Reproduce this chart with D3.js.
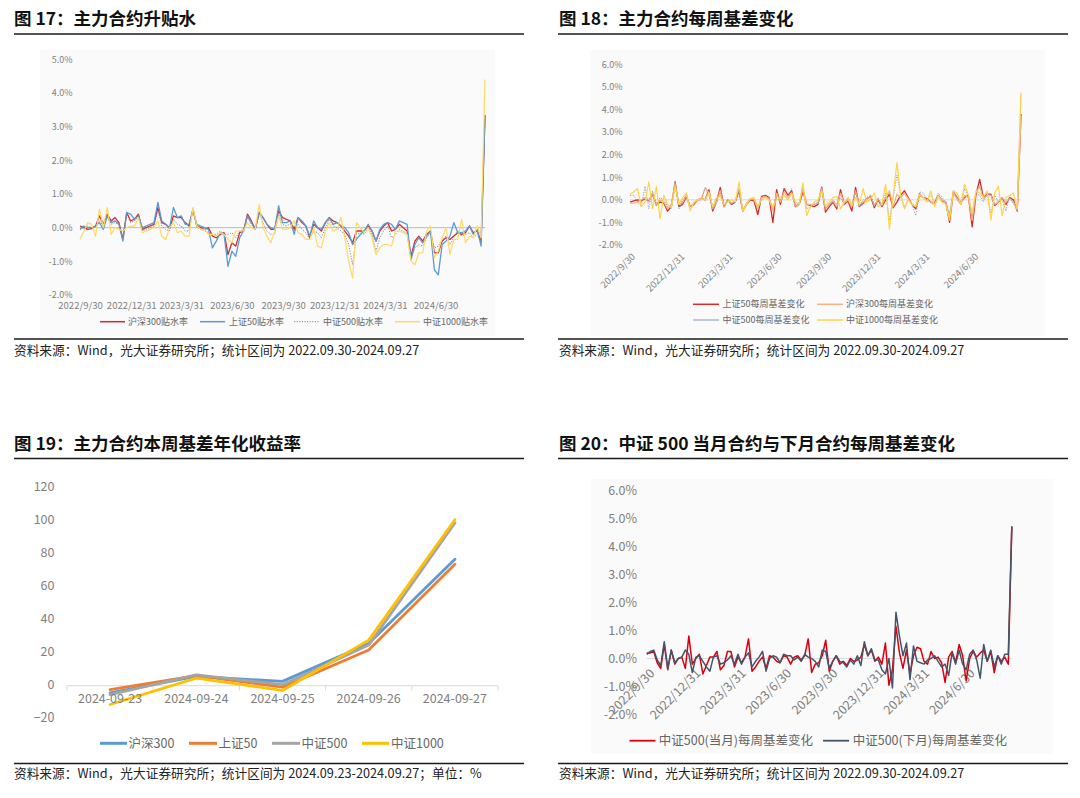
<!DOCTYPE html>
<html><head><meta charset="utf-8">
<script src="https://cdn.jsdelivr.net/npm/d3@7"></script>
<style>
body{margin:0;background:#fff}
svg{display:block}
text{font-family:"Noto Sans CJK SC","Noto Sans",sans-serif}
</style>
</head><body>
<svg id="c" width="1080" height="798"></svg>
<script>
// ---------- shared categories ----------
const weekStart = "2022-09-30", weekEnd = "2024-09-28";
const xTickLabels = ["2022/9/30","2022/12/31","2023/3/31","2023/6/30","2023/9/30","2023/12/31","2024/3/31","2024/6/30"];
const yTicks17 = [-2,-1,0,1,2,3,4,5];
const yTicks18 = [-2,-1,0,1,2,3,4,5,6];
const yTicks20 = [-2,-1,0,1,2,3,4,5,6];

// ---------- 图17 主力合约升贴水 (%) ----------
const hs300_17 = [
0.05,0.0,-0.05,-0.03,0.05,0.35,0.1,0.4,0.2,0.3,
0.15,-0.35,0.45,0.2,0.25,0.4,-0.05,0.0,0.05,0.1,
0.6,0.15,0.1,-0.02,0.35,0.3,0.3,0.15,0.05,0.55,
0.05,0.0,-0.05,0.0,-0.25,-0.3,-0.2,-0.15,-0.8,-0.45,
-0.55,-0.15,-0.1,0.4,0.2,-0.05,0.45,0.3,0.1,-0.05,
-0.05,0.5,0.3,0.25,0.2,-0.05,0.3,0.15,0.05,-0.3,
0.1,0.0,-0.1,0.15,0.3,0.2,0.15,0.05,-0.1,-0.25,
-0.45,-0.1,-0.1,-0.1,0.05,-0.1,-0.4,-0.1,0.05,0.15,
-0.1,-0.05,0.1,0.0,-0.1,-0.85,-0.4,-0.25,-0.4,-0.2,
-0.1,-0.75,-0.75,-0.4,-0.3,-0.35,-0.25,-0.15,-0.2,-0.15,
0.05,-0.15,-0.1,-0.4,3.35];
const sz50_17 = [
-0.05,0.05,0.0,0.0,0.05,0.15,-0.05,0.35,0.15,0.2,
0.1,-0.4,0.45,0.4,0.25,0.35,0.0,0.05,0.1,0.15,
0.75,0.2,0.1,0.0,0.6,0.3,0.35,0.1,0.1,0.5,
0.1,0.05,0.0,-0.05,-0.6,-0.4,-0.15,-0.2,-1.15,-0.7,
-0.85,-0.3,-0.1,0.35,0.15,-0.05,0.45,0.3,0.1,0.0,
-0.05,0.65,0.15,0.15,0.2,-0.2,0.3,0.2,0.05,-0.25,
0.2,0.0,-0.05,0.15,0.3,0.1,0.15,0.05,0.0,-0.15,
-0.5,-0.35,-0.2,-0.1,0.1,-0.1,-0.4,-0.05,0.1,0.15,
0.1,-0.05,0.2,0.15,0.1,-0.95,-0.5,-0.3,-0.45,-0.25,
-0.1,-1.25,-1.4,-0.5,-0.4,-0.25,0.15,-0.15,-0.15,-0.1,
0.05,-0.2,-0.05,-0.55,3.3];
const zz500_17 = [
-0.05,0.0,0.05,0.0,0.05,0.2,0.05,0.3,0.1,0.15,
0.1,-0.3,0.4,0.15,0.2,0.35,-0.1,-0.05,0.0,0.05,
0.5,0.05,-0.05,-0.1,0.25,0.1,0.05,-0.1,-0.1,0.55,
0.0,-0.05,-0.1,-0.15,-0.2,-0.2,-0.1,-0.2,-0.2,-0.15,
-0.3,-0.1,-0.05,0.3,0.1,-0.05,0.4,0.15,-0.1,-0.2,
-0.2,0.4,0.1,0.05,0.1,-0.1,0.1,-0.05,-0.15,-0.35,
-0.1,-0.15,-0.3,0.0,0.25,0.05,0.0,-0.1,-0.2,-0.5,
-1.1,-0.2,-0.15,-0.2,0.0,-0.2,-0.7,-0.3,-0.1,0.05,
-0.3,-0.2,-0.05,-0.1,-0.2,-0.9,-0.6,-0.5,-0.55,-0.3,
-0.15,-0.6,-0.55,-0.35,-0.25,-0.5,-0.3,-0.1,-0.25,-0.2,
-0.15,-0.3,-0.2,-0.45,3.3];
const zz1000_17 = [
-0.35,-0.1,0.15,0.1,-0.25,0.55,0.0,0.6,-0.2,0.0,
-0.05,-0.1,0.0,0.05,0.05,0.3,-0.15,-0.1,-0.05,0.0,
0.2,-0.25,-0.35,0.0,0.15,-0.15,-0.1,-0.25,-0.25,0.6,
0.05,-0.05,-0.05,-0.2,-0.2,-0.25,-0.15,-0.2,-0.35,-0.45,
-0.1,-0.1,-0.1,0.15,0.0,-0.05,0.7,0.0,-0.25,-0.45,
-0.1,0.35,-0.05,-0.05,0.0,0.2,-0.15,-0.2,-0.35,-0.35,
0.0,-0.55,-0.6,-0.1,0.15,-0.1,-0.05,0.3,-0.3,-1.0,
-1.5,0.15,0.0,-0.15,0.0,-0.3,-0.8,-0.6,-0.5,-0.5,
-0.55,-0.1,-0.1,-0.15,-0.2,-1.0,-1.1,-0.75,-0.75,-0.1,
0.05,-0.9,-0.7,-0.3,0.0,-0.8,-0.35,-0.35,0.25,-0.45,
-0.25,-0.3,0.05,-0.3,4.4];

// ---------- 图18 主力合约每周基差变化 (%) ----------
const sz50_18 = [
-0.1,-0.05,0.0,-0.05,0.05,-0.05,0.25,-0.2,-0.1,-0.15,
-0.5,-0.3,0.8,-0.3,-0.2,0.15,-0.3,-0.2,0.0,0.05,
0.0,0.45,-0.5,-0.1,0.55,-0.3,0.0,-0.2,-0.1,0.4,
-0.5,-0.2,0.0,-0.05,-0.65,0.15,0.2,0.1,-1.0,0.45,
-0.2,0.5,0.2,0.4,-0.3,-0.2,0.35,-0.2,-0.25,-0.3,
-0.2,0.55,-0.55,-0.3,-0.1,-0.4,0.45,-0.2,-0.05,-0.5,
0.55,-0.3,-0.15,0.05,0.15,-0.35,0.0,-0.3,0.0,0.25,
-0.35,-0.1,0.2,0.4,0.1,-0.2,-0.4,0.2,0.1,0.05,
-0.1,-0.15,0.2,-0.05,-0.1,-1.0,0.35,0.1,-0.1,0.1,
0.2,-1.2,0.2,0.9,0.1,0.25,0.25,-0.25,-0.1,0.1,
-0.2,0.1,0.0,-0.5,3.8];
const hs300_18 = [
-0.15,-0.15,-0.1,0.0,0.1,-0.1,0.3,-0.2,0.0,-0.1,
-0.4,-0.2,0.75,-0.2,-0.1,0.2,-0.3,-0.15,0.0,0.0,
0.55,0.3,-0.4,-0.1,0.4,-0.3,0.0,-0.15,-0.05,0.5,
-0.5,-0.15,0.05,0.0,-0.4,0.1,0.15,0.05,-0.5,0.3,
-0.1,0.35,0.1,0.3,-0.3,-0.2,0.5,-0.2,-0.2,-0.2,
-0.15,0.5,-0.4,-0.2,-0.05,-0.3,0.3,-0.15,0.0,-0.3,
0.4,-0.25,-0.1,0.0,0.2,-0.25,0.05,-0.25,0.1,0.4,
-0.3,0.25,0.1,0.3,0.05,-0.2,-0.3,0.3,0.1,0.0,
-0.1,-0.2,0.2,0.0,-0.1,-0.8,0.35,0.05,-0.2,0.2,
0.1,-0.9,0.3,0.6,0.05,0.2,0.2,-0.2,-0.1,0.1,
-0.1,0.05,-0.1,-0.45,3.7];
const zz500_18 = [
0.2,0.2,-0.1,-0.3,0.6,-0.4,0.4,-0.3,0.1,0.0,
-0.3,-0.4,0.75,-0.4,0.0,0.2,-0.3,-0.2,0.0,0.1,
0.5,0.2,-0.4,0.0,0.3,-0.3,0.0,-0.2,-0.1,0.4,
-0.4,-0.2,0.05,0.0,-0.3,0.0,0.15,0.05,-0.3,0.1,
0.0,0.2,0.0,0.5,-0.3,-0.1,0.55,-0.4,-0.3,-0.2,
-0.1,0.6,-0.4,-0.2,0.0,-0.2,0.1,-0.25,0.1,-0.2,
0.3,-0.3,0.0,0.1,0.2,-0.3,0.1,-0.3,0.3,-0.9,
0.1,1.1,0.2,-0.3,0.0,-0.2,-0.7,0.35,0.3,0.0,
0.2,-0.1,0.3,0.1,-0.1,-0.6,0.4,0.0,-0.2,0.5,
0.1,-0.7,0.3,0.2,-0.1,0.3,-0.6,0.2,-0.1,0.0,
-0.5,0.2,-0.2,-0.3,4.7];
const zz1000_18 = [
0.25,0.35,0.5,-0.3,-0.1,0.8,-0.4,0.6,-0.85,0.2,
-0.2,-0.35,0.6,-0.2,0.1,0.3,-0.5,-0.1,0.0,0.05,
0.0,0.35,-0.3,0.1,0.15,-0.2,-0.1,0.0,-0.1,0.8,
-0.5,-0.2,0.05,0.1,-0.3,0.0,0.1,0.0,-0.3,0.0,
0.1,0.2,0.0,0.3,-0.1,-0.2,0.75,-0.7,-0.3,-0.1,
0.0,0.4,-0.3,-0.1,0.1,0.15,-0.4,-0.1,0.1,-0.25,
0.1,-0.2,0.5,-0.1,0.05,0.3,-0.3,-0.2,0.7,-1.3,
0.2,1.65,0.2,-0.4,0.0,-0.2,-0.3,0.2,0.1,-0.1,
0.4,-0.3,0.15,-0.1,-0.2,-0.9,0.4,0.3,-0.2,0.7,
0.2,-0.6,0.4,0.3,0.1,0.4,-0.9,0.3,0.6,-0.7,
0.1,0.2,0.3,-0.4,4.75];

// ---------- 图19 主力合约本周基差年化收益率 (%) ----------
const days19 = ["2024-09-23","2024-09-24","2024-09-25","2024-09-26","2024-09-27"];
const yTicks19 = [-20,0,20,40,60,80,100,120];
const hs300_19 = [-5, 5, 2, 25, 76];
const sz50_19 = [-3, 5.5, -1.5, 21, 73];
const zz500_19 = [-6, 6, 0, 24, 98];
const zz1000_19 = [-12, 4, -3.5, 27, 100];

// ---------- 图20 中证500 当月/下月 每周基差变化 (%) ----------
const zz500cur_20 = [
0.2,0.2,0.25,-0.15,-0.35,0.5,-0.4,0.3,-0.2,0.0,
0.05,-0.35,0.8,-0.2,0.0,0.15,-0.55,-0.25,0.05,0.05,
0.25,-0.4,-0.25,0.25,0.25,-0.3,0.05,-0.15,0.05,0.7,
-0.45,-0.3,-0.1,0.05,-0.35,0.1,0.05,-0.1,-0.15,0.1,
0.05,-0.2,0.05,0.1,-0.05,0.1,0.7,-0.5,-0.2,-0.15,
0.1,0.65,-0.45,-0.1,0.1,-0.2,-0.1,-0.25,0.0,-0.1,
-0.05,0.05,0.5,0.1,0.3,-0.1,0.05,-0.2,0.55,-0.95,
-0.4,1.15,0.2,-0.35,0.3,-0.55,0.1,0.4,0.35,-0.1,
-0.2,0.25,0.0,0.05,-0.15,-0.85,0.05,0.25,-0.15,0.5,
0.1,-0.8,0.0,0.25,0.05,0.2,0.3,-0.1,0.25,-0.5,
0.1,-0.1,0.05,-0.2,4.7];
const zz500next_20 = [
0.15,0.25,0.3,-0.05,-0.25,0.6,-0.35,0.3,-0.15,0.0,
0.05,0.3,0.15,-0.5,0.05,0.1,-0.1,-0.3,-0.45,0.05,
0.1,-0.2,-0.15,-0.05,0.1,-0.2,0.15,-0.2,0.05,0.2,
-0.3,-0.1,0.05,0.25,-0.45,0.0,0.1,0.05,-0.15,0.15,
0.1,0.1,-0.05,0.05,-0.1,0.15,0.05,0.0,-0.1,-0.3,
0.3,0.25,-0.35,-0.1,0.1,-0.1,-0.15,-0.3,-0.05,-0.2,
0.1,-0.25,0.6,0.1,0.35,-0.05,-0.05,-0.4,-0.55,0.0,
-1.05,1.65,0.8,0.1,0.55,-0.75,0.45,-0.1,-0.15,-0.2,
-0.05,0.0,0.1,-0.1,-0.3,-0.2,-0.6,0.2,-0.2,0.3,
-0.2,-0.4,0.15,0.3,-0.05,-0.7,0.5,-0.1,0.3,-0.3,
0.1,-0.2,0.15,0.15,4.7];

// ================= drawing =================
const svg = d3.select("#c");
const parseDay = d3.timeParse("%Y-%m-%d");
const parseTick = d3.timeParse("%Y/%m/%d");
const dates = d3.timeFriday.range(parseDay(weekStart), parseDay(weekEnd));
const tickDates = xTickLabels.map(parseTick);
const GRAY_TXT = "#7f7f7f";

function frame(p) {
  svg.append("text").attr("x", p.tx).attr("y", p.ty).attr("font-size", 17.5)
    .attr("font-weight", 700).attr("fill", "#111").text(p.title);
  svg.append("line").attr("x1", p.x0).attr("x2", p.x1).attr("y1", p.r1).attr("y2", p.r1)
    .attr("stroke", "#1a1a1a").attr("stroke-width", 1.5);
  svg.append("line").attr("x1", p.x0).attr("x2", p.x1).attr("y1", p.r2).attr("y2", p.r2)
    .attr("stroke", "#1a1a1a").attr("stroke-width", 1.3);
  svg.append("text").attr("x", p.tx).attr("y", p.sy).attr("font-size", 12.7)
    .attr("fill", "#222").text(p.source);
  if (p.bg) svg.append("rect").attr("x", p.bg[0]).attr("y", p.bg[1]).attr("width", p.bg[2])
    .attr("height", p.bg[3]).attr("fill", "#fafafa");
}

function legend(items, fs) {
  items.forEach(it => {
    svg.append("line").attr("x1", it.x1).attr("x2", it.x2).attr("y1", it.y).attr("y2", it.y)
      .attr("stroke", it.color).attr("stroke-width", it.w)
      .attr("stroke-dasharray", it.dash || null);
    svg.append("text").attr("x", it.tx).attr("y", it.y).attr("dy", "0.35em")
      .attr("font-size", fs).attr("fill", "#666").text(it.label);
  });
}

function weekly(cfg) {
  const x = d3.scaleTime().domain([dates[0], dates[dates.length - 1]]).range([cfg.x0, cfg.x1]);
  const y = d3.scaleLinear().domain(cfg.yDomain).range([cfg.yB, cfg.yT]);
  // zero line
  svg.append("line").attr("x1", cfg.x0).attr("x2", cfg.x1).attr("y1", y(0)).attr("y2", y(0))
    .attr("stroke", cfg.zeroColor).attr("stroke-width", 1);
  // y axis
  const ya = svg.append("g").attr("transform", `translate(${cfg.yLabelX},0)`)
    .call(d3.axisLeft(y).tickValues(cfg.yTicks).tickSize(0).tickPadding(0)
      .tickFormat(d => d.toFixed(1) + "%"));
  ya.select(".domain").remove();
  ya.selectAll("text").attr("font-size", cfg.yfs || cfg.fs).attr("fill", GRAY_TXT);
  // x axis
  const xa = svg.append("g").attr("transform", `translate(0,${cfg.xLabelY})`)
    .call(d3.axisBottom(x).tickValues(tickDates).tickSize(0).tickPadding(0)
      .tickFormat((d, i) => xTickLabels[i]));
  xa.select(".domain").remove();
  xa.selectAll("text").attr("font-size", cfg.fs).attr("fill", GRAY_TXT);
  if (cfg.rotate) {
    xa.selectAll("text").attr("y", 0).attr("x", 0).attr("dy", "0.35em")
      .attr("text-anchor", "end")
      .attr("transform", `translate(${cfg.rotDx},0) rotate(-45)`);
  }
  // series
  const line = d3.line().x((d, i) => x(dates[i])).y(d => y(d));
  cfg.series.forEach(s => {
    svg.append("path").datum(s.values).attr("d", line).attr("fill", "none")
      .attr("stroke", s.color).attr("stroke-width", s.w)
      .attr("stroke-dasharray", s.dash || null).attr("stroke-linejoin", "round");
  });
}

const SRC1 = "资料来源：Wind，光大证券研究所；统计区间为 2022.09.30-2024.09.27";

// ----- 图17 -----
frame({tx: 14, ty: 25, title: "图 17：主力合约升贴水", x0: 14, x1: 524, r1: 34, r2: 339,
  sy: 354.5, source: SRC1, bg: [40, 50, 455, 286]});
weekly({x0: 80, x1: 485, yDomain: [-2, 5], yB: 295, yT: 59.3, yTicks: yTicks17,
  yLabelX: 72.5, xLabelY: 302, fs: 9.5, yfs: 9, zeroColor: "#9DC3E6",
  series: [
    {values: hs300_17, color: "#D42A2A", w: 1.3},
    {values: sz50_17, color: "#5B9BD5", w: 1.3},
    {values: zz500_17, color: "#808080", w: 0.9, dash: "1.2,1.4"},
    {values: zz1000_17, color: "#FFD966", w: 1.2}
  ]});
legend([
  {x1: 100, x2: 125, y: 321.7, tx: 128, color: "#D42A2A", w: 1.5, label: "沪深300贴水率"},
  {x1: 200, x2: 225, y: 321.7, tx: 229, color: "#5B9BD5", w: 1.5, label: "上证50贴水率"},
  {x1: 294, x2: 319, y: 321.7, tx: 323, color: "#808080", w: 1, dash: "1.2,1.4", label: "中证500贴水率"},
  {x1: 395, x2: 420, y: 321.7, tx: 423, color: "#FFD966", w: 1.5, label: "中证1000贴水率"}
], 9);

// ----- 图18 -----
frame({tx: 559, ty: 25, title: "图 18：主力合约每周基差变化", x0: 558, x1: 1068, r1: 34, r2: 339,
  sy: 354.5, source: SRC1, bg: [590, 50, 455, 286]});
weekly({x0: 630, x1: 1021, yDomain: [-2, 6], yB: 245, yT: 64.3, yTicks: yTicks18,
  yLabelX: 622.5, xLabelY: 255, fs: 9.5, yfs: 9, zeroColor: "#d9d9d9", rotate: true, rotDx: 3,
  series: [
    {values: sz50_18, color: "#D42A2A", w: 1.3},
    {values: hs300_18, color: "#F4B183", w: 1.3},
    {values: zz500_18, color: "#8497B0", w: 0.9, dash: "1.2,1.4"},
    {values: zz1000_18, color: "#FFD447", w: 1.2}
  ]});
legend([
  {x1: 693, x2: 719, y: 304.3, tx: 722.5, color: "#D42A2A", w: 1.5, label: "上证50每周基差变化"},
  {x1: 817, x2: 843, y: 304.3, tx: 846, color: "#F4B183", w: 1.5, label: "沪深300每周基差变化"},
  {x1: 693, x2: 719, y: 320, tx: 722.5, color: "#8497B0", w: 1, label: "中证500每周基差变化"},
  {x1: 817, x2: 843, y: 320, tx: 846, color: "#FFD447", w: 1.5, label: "中证1000每周基差变化"}
], 9);

// ----- 图19 -----
frame({tx: 14, ty: 450, title: "图 19：主力合约本周基差年化收益率", x0: 14, x1: 524, r1: 458.5, r2: 763.5,
  sy: 778, source: "资料来源：Wind，光大证券研究所；统计区间为 2024.09.23-2024.09.27；单位：%"});
(function () {
  const xb = d3.scaleBand().domain(days19).range([67, 498]).padding(0);
  const y = d3.scaleLinear().domain([-20, 120]).range([717.7, 486.7]);
  const cx = d => xb(d) + xb.bandwidth() / 2;
  // axis line + boundary ticks
  svg.append("line").attr("x1", 67).attr("x2", 498).attr("y1", y(0) + 1).attr("y2", y(0) + 1)
    .attr("stroke", "#d9d9d9").attr("stroke-width", 1);
  days19.concat([null]).forEach(d => {
    const bx = d ? xb(d) : 498;
    svg.append("line").attr("x1", bx).attr("x2", bx).attr("y1", y(0) + 1).attr("y2", y(0) + 6)
      .attr("stroke", "#d9d9d9").attr("stroke-width", 1);
  });
  const ya = svg.append("g").attr("transform", "translate(54.5,0)")
    .call(d3.axisLeft(y).tickValues(yTicks19).tickSize(0).tickPadding(0));
  ya.select(".domain").remove();
  ya.selectAll("text").attr("font-size", 12.5).attr("fill", GRAY_TXT);
  const series = [
    {values: hs300_19, color: "#5B9BD5"},
    {values: sz50_19, color: "#ED7D31"},
    {values: zz500_19, color: "#A5A5A5"},
    {values: zz1000_19, color: "#FFC000"}
  ];
  const line = d3.line().x((d, i) => cx(days19[i])).y(d => y(d));
  series.forEach(s => {
    svg.append("path").datum(s.values).attr("d", line).attr("fill", "none")
      .attr("stroke", s.color).attr("stroke-width", 2.8)
      .attr("stroke-linejoin", "round").attr("stroke-linecap", "round");
  });
  const xa = svg.append("g").attr("transform", "translate(0,694.5)")
    .call(d3.axisBottom(xb).tickSize(0).tickPadding(0));
  xa.select(".domain").remove();
  xa.selectAll("text").attr("font-size", 12.5).attr("fill", GRAY_TXT);
})();
legend([
  {x1: 100, x2: 127, y: 743.3, tx: 128.5, color: "#5B9BD5", w: 3, label: "沪深300"},
  {x1: 189, x2: 217, y: 743.3, tx: 218.5, color: "#ED7D31", w: 3, label: "上证50"},
  {x1: 272, x2: 300, y: 743.3, tx: 301.5, color: "#A5A5A5", w: 3, label: "中证500"},
  {x1: 362, x2: 389, y: 743.3, tx: 391, color: "#FFC000", w: 3, label: "中证1000"}
], 12.5);

// ----- 图20 -----
frame({tx: 559, ty: 450, title: "图 20：中证 500 当月合约与下月合约每周基差变化", x0: 558, x1: 1068,
  r1: 458.5, r2: 763.5, sy: 778, source: SRC1, bg: [591, 479, 462, 275]});
weekly({x0: 646.7, x1: 1011.8, yDomain: [-2, 6], yB: 714.7, yT: 490, yTicks: yTicks20,
  yLabelX: 637, xLabelY: 671, fs: 12.5, zeroColor: "#d9d9d9", rotate: true, rotDx: 5,
  series: [
    {values: zz500cur_20, color: "#D9000D", w: 1.5},
    {values: zz500next_20, color: "#44546A", w: 1.5}
  ]});
legend([
  {x1: 629.5, x2: 655.5, y: 740.7, tx: 658.8, color: "#D9000D", w: 1.8, label: "中证500(当月)每周基差变化"},
  {x1: 823, x2: 849, y: 740.7, tx: 852.7, color: "#44546A", w: 1.8, label: "中证500(下月)每周基差变化"}
], 12.5);
</script>
</body></html>
